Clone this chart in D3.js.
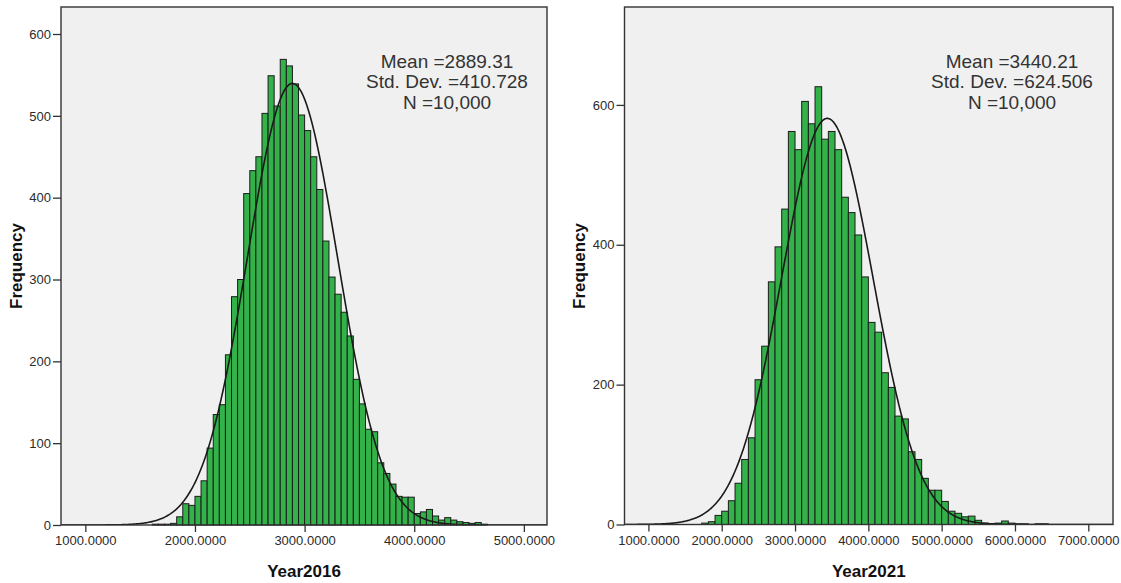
<!DOCTYPE html>
<html>
<head>
<meta charset="utf-8">
<script src="https://cdn.jsdelivr.net/npm/d3@7"></script>
<style>
  body { margin: 0; background: #fff; }
  svg { display: block; font-family: Arial, "Liberation Sans", sans-serif; }
</style>
</head>
<body>
<svg id="chart" width="1121" height="583"></svg>
<script>
// bin counts (left = Year2016, right = Year2021)
const binStart2016 = 1611.11;
const binWidth2016 = 55.556;
const counts2016 = [1, 1, 1, 2, 10, 26, 24,
  35, 54, 94, 135, 147, 208, 279, 300, 405, 433, 450, 503, 549, 512, 569, 561, 539, 501,
  482, 450, 410, 347, 303, 282, 260, 231, 178, 148, 117, 114, 76, 63, 50, 35, 34, 34,
  14, 16, 19, 11, 6, 9, 6, 4, 3, 2, 3, 1];

const binStart2021 = 1727.27;
const binWidth2021 = 90.909;
const counts2021 = [2, 4, 13,
  19, 34, 59, 93, 124, 207, 255, 347, 397, 451, 562,
  536, 605, 573, 626, 551, 562, 536, 468, 446, 414, 354,
  289, 275, 217, 196, 155, 151, 104, 93, 66, 49, 49,
  33, 19, 16, 11, 12, 6, 2, 1, 2, 5, 2,
  1, 1, 0, 1, 1];

// summary statistics printed on each chart
const stats2016 = { mean: 2889.31, sd: 410.728, n: 10000 };
const stats2021 = { mean: 3440.21, sd: 624.506, n: 10000 };

const xTicks2016 = [1000, 2000, 3000, 4000, 5000];
const xTicks2021 = [1000, 2000, 3000, 4000, 5000, 6000, 7000];
const yTicks2016 = [0, 100, 200, 300, 400, 500, 600];
const yTicks2021 = [0, 200, 400, 600];

const svg = d3.select("#chart");

function histogram(cfg) {
  const g = svg.append("g");
  const x = d3.scaleLinear().domain(cfg.xDomain).range([cfg.left, cfg.right]);
  const y = d3.scaleLinear().domain(cfg.yDomain).range([cfg.bottom, cfg.top]);

  // plot background + frame
  g.append("rect")
      .attr("x", cfg.left).attr("y", cfg.top)
      .attr("width", cfg.right - cfg.left)
      .attr("height", cfg.bottom - cfg.top)
      .attr("fill", "#f0f0f0");

  const clipId = "clip" + cfg.id;
  svg.append("clipPath").attr("id", clipId)
    .append("rect")
      .attr("x", cfg.left).attr("y", cfg.top)
      .attr("width", cfg.right - cfg.left)
      .attr("height", cfg.bottom - cfg.top);

  const bins = cfg.counts.map(function(c, i) {
    return { x0: cfg.binStart + i * cfg.binWidth, x1: cfg.binStart + (i + 1) * cfg.binWidth, count: c };
  }).filter(d => d.count > 0);

  g.append("g")
    .selectAll("rect")
    .data(bins)
    .enter()
    .append("rect")
      .attr("x", d => x(d.x0))
      .attr("y", d => y(d.count))
      .attr("width", d => x(d.x1) - x(d.x0))
      .attr("height", d => y(0) - y(d.count))
      .attr("fill", "#33b249")
      .attr("stroke", "#1c1c1c")
      .attr("stroke-width", 1);

  // fitted normal curve from the printed mean / sd / N
  const s = cfg.stats;
  const scale = s.n * cfg.binWidth / (s.sd * Math.sqrt(2 * Math.PI));
  const pts = d3.range(cfg.xDomain[0], cfg.xDomain[1], 10).map(function(v) {
    const z = (v - s.mean) / s.sd;
    return [v, scale * Math.exp(-0.5 * z * z)];
  });
  g.append("path")
      .datum(pts)
      .attr("clip-path", "url(#" + clipId + ")")
      .attr("fill", "none")
      .attr("stroke", "#1a1a1a")
      .attr("stroke-width", 1.6)
      .attr("d", d3.line().x(d => x(d[0])).y(d => y(d[1])));

  g.append("rect")
      .attr("x", cfg.left).attr("y", cfg.top)
      .attr("width", cfg.right - cfg.left)
      .attr("height", cfg.bottom - cfg.top)
      .attr("fill", "none")
      .attr("stroke", "#333")
      .attr("stroke-width", 1.4);

  // axes
  const xAxis = g.append("g")
      .attr("transform", "translate(0," + cfg.bottom + ")")
      .call(d3.axisBottom(x).tickValues(cfg.xTicks).tickFormat(d3.format(".4f"))
        .tickSize(7).tickSizeOuter(0).tickPadding(4));
  const yAxis = g.append("g")
      .attr("transform", "translate(" + cfg.left + ",0)")
      .call(d3.axisLeft(y).tickValues(cfg.yTicks).tickFormat(d3.format("d"))
        .tickSize(8).tickSizeOuter(0).tickPadding(2));
  [xAxis, yAxis].forEach(function(a) {
    a.select(".domain").remove();
    a.selectAll("line").attr("stroke", "#333").attr("stroke-width", 1.3);
    a.selectAll("text")
        .attr("fill", "#2b2b2b")
        .style("font-size", "13px")
        .style("font-family", "Arial, 'Liberation Sans', sans-serif");
  });

  // axis titles
  g.append("text")
      .attr("x", (cfg.left + cfg.right) / 2)
      .attr("y", 577)
      .attr("text-anchor", "middle")
      .style("font-size", "17px")
      .style("font-weight", "bold")
      .attr("fill", "#111")
      .text(cfg.xTitle);
  g.append("text")
      .attr("transform", "translate(" + cfg.yTitleX + ",266) rotate(-90)")
      .attr("text-anchor", "middle")
      .style("font-size", "17px")
      .style("font-weight", "bold")
      .attr("fill", "#111")
      .text("Frequency");

  // stats box
  const lines = [
    "Mean =" + s.mean.toFixed(2),
    "Std. Dev. =" + s.sd.toFixed(3),
    "N =" + d3.format(",")(s.n)
  ];
  g.append("g")
    .selectAll("text")
    .data(lines)
    .enter()
    .append("text")
      .attr("x", cfg.statsX)
      .attr("y", (d, i) => 68 + i * 20.3)
      .attr("text-anchor", "middle")
      .attr("fill", "#333")
      .style("font-size", "19px")
      .text(d => d);
}

histogram({
  id: "2016", left: 61, right: 547, top: 7, bottom: 525,
  xDomain: [778, 5211], yDomain: [0, 633],
  binStart: binStart2016, binWidth: binWidth2016, counts: counts2016,
  stats: stats2016, xTicks: xTicks2016, yTicks: yTicks2016,
  xTitle: "Year2016", yTitleX: 22, statsX: 447
});

histogram({
  id: "2021", left: 624.5, right: 1113, top: 7, bottom: 524.5,
  xDomain: [674, 7337], yDomain: [0, 740],
  binStart: binStart2021, binWidth: binWidth2021, counts: counts2021,
  stats: stats2021, xTicks: xTicks2021, yTicks: yTicks2021,
  xTitle: "Year2021", yTitleX: 585, statsX: 1012
});
</script>
</body>
</html>
